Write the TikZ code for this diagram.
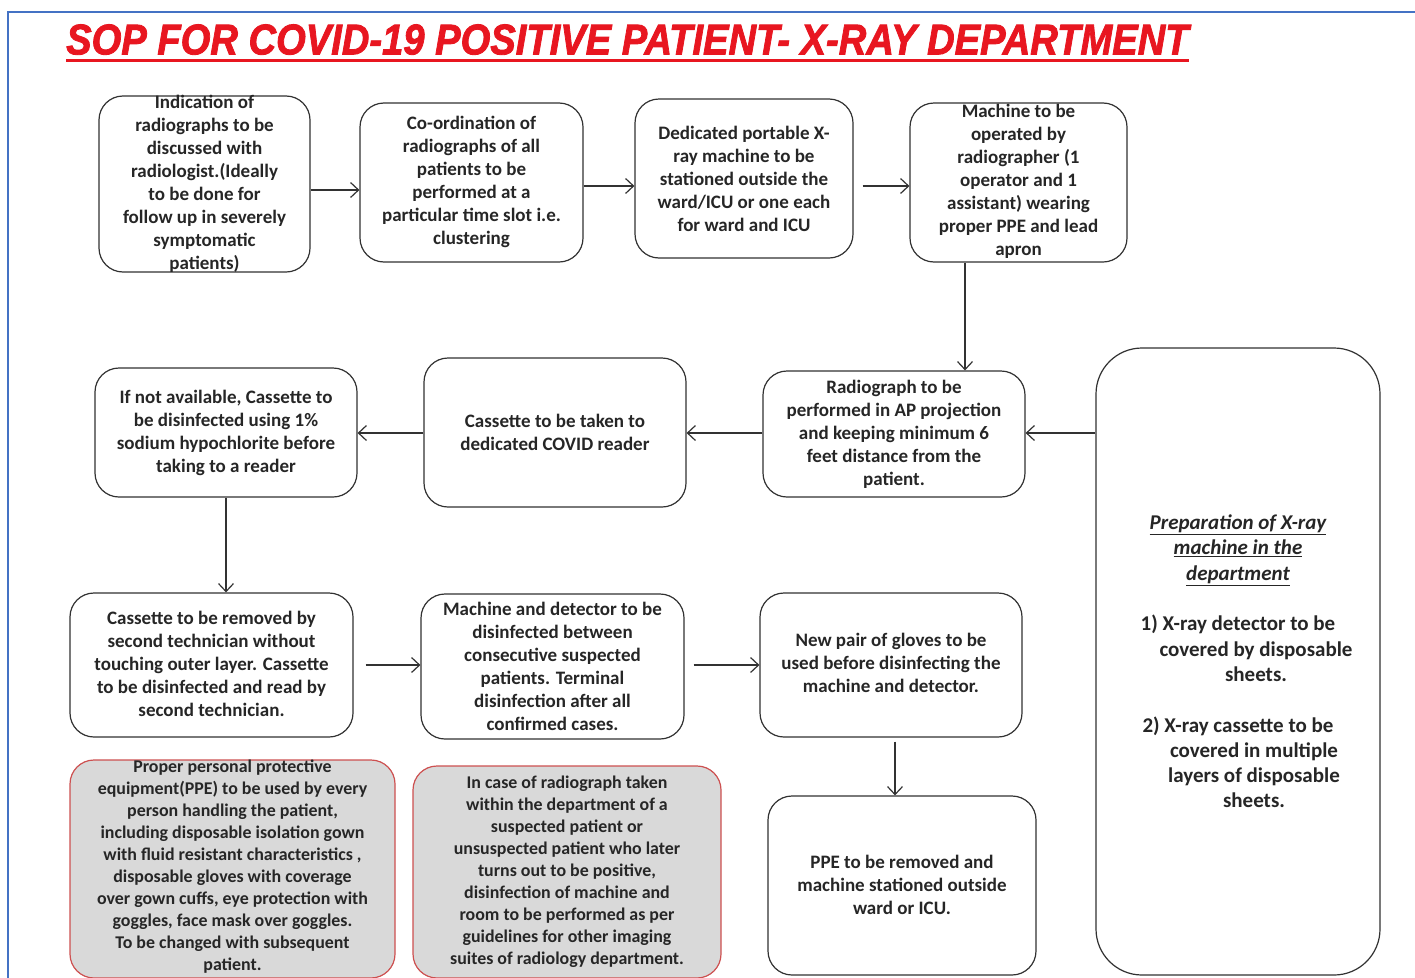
\documentclass[tikz,border=0pt]{standalone}
\usepackage{fontspec}
\usepackage{graphicx}
\setmainfont{Carlito}
\newfontfamily\titlefont{Liberation Sans}[BoldItalicFeatures={FakeBold=2}]
\usetikzlibrary{arrows.meta}
\definecolor{titlered}{RGB}{232,22,32}
\definecolor{framblue}{RGB}{68,114,196}
\definecolor{boxline}{RGB}{50,50,50}
\definecolor{redline}{RGB}{205,80,80}
\definecolor{grayfill}{RGB}{217,217,217}
\tikzset{
  box/.style={draw=boxline, line width=1.2pt, rounded corners=24pt, inner sep=0pt, fill=white},
  graybox/.style={box, draw=redline, fill=grayfill},
  txtreg/.style={align=center, inner sep=0pt, text=black!85, font=\fontsize{19pt}{23pt}\selectfont\bfseries},
  txtbold/.style={align=center, inner sep=0pt, text=black!85, font=\fontsize{19pt}{23pt}\selectfont\bfseries},
  txtgray/.style={align=center, inner sep=0pt, text=black!85, font=\fontsize{17.9pt}{22pt}\selectfont\bfseries},
  txtright/.style={align=center, inner sep=0pt, text=black!85, font=\fontsize{21pt}{25.3pt}\selectfont\bfseries},
  arr/.style={draw=boxline, line width=1.2pt, -{Straight Barb[length=8pt,width=15pt,line width=1.2pt]}},
  frameline/.style={draw=framblue, line width=1.5pt}
}
\begin{document}
\begin{tikzpicture}[x=1pt,y=-1pt]
\useasboundingbox (0,0) rectangle (1415,977);
\clip (0,0) rectangle (1415,977);
\fill[white] (0,0) rectangle (1415,977);
% frame
\coordinate (fbl) at (8,990);
\coordinate (ftl) at (8,12);
\coordinate (ftr) at (1420,12);
\draw[frameline] (fbl) -- (ftl) -- (ftr);
% title
\node[anchor=south west, inner sep=0pt, text=titlered] (title) at (66,55)
  {\resizebox{1122pt}{30pt}{\titlefont\bfseries\itshape SOP FOR COVID-19 POSITIVE PATIENT- X-RAY DEPARTMENT}};
\draw[titlered, line width=3.5pt] ([yshift=-5.5pt]title.south west) -- ([yshift=-5.5pt]title.south east);
% boxes row 1
\node[box, minimum width=211pt, minimum height=176pt] (a1) at (204.5,184) {};
\node[box, minimum width=223pt, minimum height=159pt] (a2) at (471.5,182.5) {};
\node[box, minimum width=218pt, minimum height=159pt] (a3) at (744,178.5) {};
\node[box, minimum width=217pt, minimum height=159pt] (a4) at (1018.5,182.5) {};
% row 2
\node[box, minimum width=262pt, minimum height=129pt] (b1) at (226,432.5) {};
\node[box, minimum width=262pt, minimum height=149pt] (b2) at (555,432.5) {};
\node[box, minimum width=262pt, minimum height=126pt] (b3) at (894,434) {};
\node[box, rounded corners=46pt, minimum width=284pt, minimum height=627pt] (r) at (1238,661.5) {};
% row 3
\node[box, minimum width=283pt, minimum height=144pt] (c1) at (211.5,665) {};
\node[box, minimum width=263pt, minimum height=145pt] (c2) at (552.5,666.5) {};
\node[box, minimum width=262pt, minimum height=144pt] (c3) at (891,665) {};
% row 4
\node[graybox, minimum width=325pt, minimum height=218pt] (d1) at (232.5,869) {};
\node[graybox, minimum width=308pt, minimum height=212pt] (d2) at (567,872) {};
\node[box, minimum width=268pt, minimum height=179pt] (d3) at (902,885.5) {};
% texts
\node[txtreg] (ta1) at (a1.center) {Indication of\\radiographs to be\\discussed with\\radiologist.(Ideally\\to be done for\\follow up in severely\\symptomatic\\patients)};
\node[txtreg] (ta2) at ([yshift=1pt]a2.center) {Co-ordination of\\radiographs of all\\patients to be\\performed at a\\particular time slot i.e.\\clustering};
\node[txtbold] (ta3) at (a3.center) {Dedicated portable X-\\ray machine to be\\stationed outside the\\ward/ICU or one each\\for ward and ICU};
\node[txtbold] (ta4) at ([yshift=1pt]a4.center) {Machine to be\\operated by\\radiographer (1\\operator and 1\\assistant) wearing\\proper PPE and lead\\apron};
\node[txtbold] (tb1) at (b1.center) {If not available, Cassette to\\be disinfected using 1\%\\sodium hypochlorite before\\taking to a reader};
\node[txtbold] (tb2) at (b2.center) {Cassette to be taken to\\dedicated COVID reader};
\node[txtbold] (tb3) at (b3.center) {Radiograph to be\\performed in AP projection\\and keeping minimum 6\\feet distance from the\\patient.};
\node[txtbold] (tc1) at ([yshift=1pt]c1.center) {Cassette to be removed by\\second technician without\\touching outer layer. Cassette\\to be disinfected and read by\\second technician.};
\node[txtbold] (tc2) at (c2.center) {Machine and detector to be\\disinfected between\\consecutive suspected\\patients. Terminal\\disinfection after all\\confirmed cases.};
\node[txtbold] (tc3) at ([yshift=2pt]c3.center) {New pair of gloves to be\\used before disinfecting the\\machine and detector.};
\node[txtgray] (td1) at ([yshift=2pt]d1.center) {Proper personal protective\\equipment(PPE) to be used by every\\person handling the patient,\\including disposable isolation gown\\with fluid resistant characteristics ,\\disposable gloves with coverage\\over gown cuffs, eye protection with\\goggles, face mask over goggles.\\To be changed with subsequent\\patient.};
\node[txtgray] (td2) at (d2.center) {In case of radiograph taken\\within the department of a\\suspected patient or\\unsuspected patient who later\\turns out to be positive,\\disinfection of machine and\\room to be performed as per\\guidelines for other imaging\\suites of radiology department.};
\node[txtbold] (td3) at ([yshift=1pt]d3.center) {PPE to be removed and\\machine stationed outside\\ward or ICU.};
\node[txtright] (tr) at ([yshift=0pt]r.center) {\itshape\underline{Preparation of X-ray}\\\itshape\underline{machine in the}\\\itshape\underline{department}\\[25.3pt]
1) X-ray detector to be\\\hspace*{36pt}covered by disposable\\\hspace*{36pt}sheets.\\[25.3pt]
2) X-ray cassette to be\\\hspace*{32pt}covered in multiple\\\hspace*{32pt}layers of disposable\\\hspace*{32pt}sheets.};
% connectors
\draw[arr] (a1.east |- 0,190) -- (a2.west |- 0,190);
\draw[arr] (a2.east |- 0,186) -- (a3.west |- 0,186);
\draw[arr, shorten <=9pt] (a3.east |- 0,186) -- (a4.west |- 0,186);
\draw[arr] (a4.south -| 965,0) -- (b3.north -| 965,0);
\draw[arr] (r.west |- 0,433) -- (b3.east |- 0,433);
\draw[arr] (b3.west |- 0,433) -- (b2.east |- 0,433);
\draw[arr] (b2.west |- 0,433) -- (b1.east |- 0,433);
\draw[arr] (b1.south) -- (c1.north -| b1.south);
\draw[arr, shorten <=12pt] (c1.east |- 0,665) -- (c2.west |- 0,665);
\draw[arr, shorten <=9pt] (c2.east |- 0,665) -- (c3.west |- 0,665);
\draw[arr, shorten <=4pt] (c3.south -| 895,0) -- (d3.north -| 895,0);
\end{tikzpicture}
\end{document}
